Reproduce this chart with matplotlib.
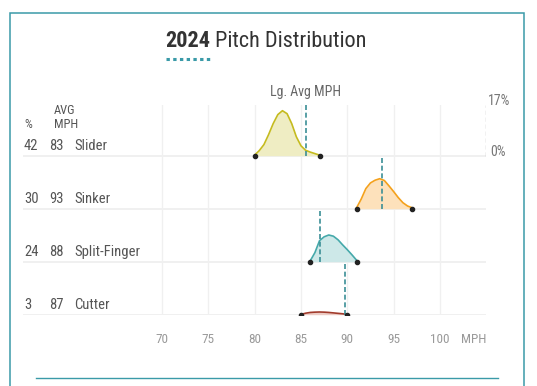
import matplotlib.pyplot as plt
from matplotlib.lines import Line2D
from matplotlib.patches import Rectangle

plt.rcParams['font.family'] = ['Roboto Condensed', 'Roboto', 'DejaVu Sans']

# data
pitches = ['Slider', 'Sinker', 'Split-Finger', 'Cutter']
usage_pct = [42, 30, 24, 3]
avg_mph = [83, 93, 88, 87]
league_avg_mph = [85.5, 93.7, 87.0, 89.7]

slider_mph = [80, 80.5, 81, 81.5, 82, 82.5, 83, 83.5, 84, 84.5, 85, 85.5, 86, 86.5, 87]
slider_dens = [0.2, 1.7, 3.7, 7.0, 10.7, 13.7, 15.0, 14.0, 10.7, 6.3, 3.3, 1.8, 1.2, 0.7, 0.2]
sinker_mph = [91, 91.5, 92, 92.5, 93, 93.5, 94, 94.5, 95, 95.5, 96, 96.5, 97]
sinker_dens = [0.3, 3.2, 6.7, 8.6, 9.5, 10.0, 9.4, 7.6, 5.7, 3.7, 2.0, 0.9, 0.3]
split_mph = [86, 86.5, 87, 87.5, 88, 88.5, 89, 89.5, 90, 90.5, 91]
split_dens = [0.3, 3.0, 7.0, 8.3, 8.9, 8.5, 7.3, 5.6, 4.0, 2.3, 0.5]
cutter_mph = [85, 85.5, 86, 86.5, 87, 87.5, 88, 88.5, 89, 89.5, 90]
cutter_dens = [0.1, 0.5, 0.75, 0.85, 0.9, 0.85, 0.75, 0.6, 0.45, 0.3, 0.1]

curves = [(slider_mph, slider_dens), (sinker_mph, sinker_dens),
          (split_mph, split_dens), (cutter_mph, cutter_dens)]
line_colors = ['#c5bb1f', '#f4a11c', '#45a9aa', '#a23b2c']
fill_colors = ['#efedc3', '#fde1bb', '#cde8e8', '#ecccc5']

tick_mph = [70, 75, 80, 85, 90, 95, 100]
scale_top = 17  # percent shown by the gray scale bar

W, H = 537, 386
fig = plt.figure(figsize=(W / 100, H / 100), dpi=100)
teal = '#3a9aa8'

# frame + bottom rule
fig.add_artist(Rectangle((10.3 / W, -0.05), (524 - 10.3) / W, 1.05 - 13.4 / H,
                         transform=fig.transFigure, fill=False, ec=teal, lw=1.1))
fig.add_artist(Line2D([36 / W, 497.6 / W], [1 - 377.7 / H] * 2, color=teal, lw=1.0))

# title, "2024" bold then the rest right after it
t1 = fig.text(165.4 / W, 1 - 47 / H, '2024', fontsize=16, weight='bold', color='#333333',
              va='baseline')
fig.canvas.draw()
x1 = t1.get_window_extent().x1
fig.text((x1 + 5) / W, 1 - 47 / H, 'Pitch Distribution', fontsize=16, color='#333333',
         va='baseline')
fig.add_artist(Line2D([165.5 / W, 209.5 / W], [1 - 59 / H] * 2, color=teal, lw=2.2,
                      dashes=(1.1, 1.1)))

row_gap = 17.67
ax = fig.add_axes([23 / W, 1 - 314.7 / H, (486.3 - 23) / W, (314.7 - 104.7) / H])
ax.set_xlim(55, 105)
ax.set_ylim(-3 * row_gap, scale_top)
ax.axis('off')

bottom = -3 * row_gap
for t in tick_mph:
    ax.plot([t, t], [bottom, scale_top], color='#f0f0f0', lw=1.0, zorder=0)
    ax.text(t, bottom - 8.4, str(t), ha='center', va='center', fontsize=9.5, color='#9a9a9a')
ax.text(105, bottom - 8.4, 'MPH', ha='right', va='center', fontsize=9.5, color='#9a9a9a')

for i, name in enumerate(pitches):
    base = -i * row_gap
    ax.plot([55, 105], [base, base], color='#f0f0f0', lw=1.4, zorder=0)
    mph, dens = curves[i]
    ys = [base + d for d in dens]
    ax.fill_between(mph, base, ys, color=fill_colors[i], lw=0, zorder=1)
    ax.plot(mph, ys, color=line_colors[i], lw=1.2, zorder=2)
    ax.plot([mph[0], mph[-1]], [base, base], 'o', ms=3, color='#222222', zorder=4)
    ax.plot([league_avg_mph[i]] * 2, [base, base + row_gap if i else scale_top],
            color='#3b8f96', lw=1.2, dashes=(3, 1.6), zorder=3)
    ax.text(55.1, base + 3.1, str(usage_pct[i]), va='center', fontsize=10.5, color='#555555')
    ax.text(57.8, base + 3.1, str(avg_mph[i]), va='center', fontsize=10.5, color='#555555')
    ax.text(60.5, base + 3.1, name, va='center', fontsize=10.5, color='#555555')

# column headers
ax.text(55.1, 10.5, '%', va='center', fontsize=9, color='#555555')
ax.text(58.3, 14.9, 'AVG', va='center', fontsize=9, color='#555555')
ax.text(58.3, 10.5, 'MPH', va='center', fontsize=9, color='#555555')
ax.text(league_avg_mph[0], 21.1, 'Lg. Avg MPH', ha='center', va='center', fontsize=10,
        color='#666666', clip_on=False)

# density scale bar
ax.plot([105, 105], [0, scale_top], color='#bbbbbb', lw=1.0, dashes=(3, 2))
ax.text(105.2, 18.2, f'{scale_top}%', va='center', fontsize=10, color='#777777', clip_on=False)
ax.text(105.4, 1.3, '0%', va='center', fontsize=10, color='#777777')

fig.savefig('out.png', dpi=100)
